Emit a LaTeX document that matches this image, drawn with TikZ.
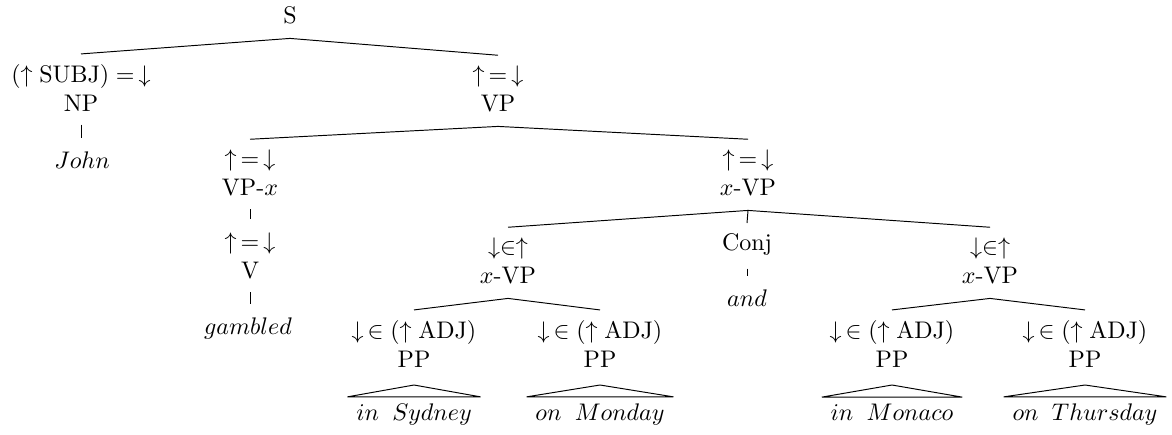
\documentclass[tikz,border=0pt]{standalone}
\usetikzlibrary{calc}
\newcommand{\lsp}{\mskip10mu}
\begin{document}
\begin{tikzpicture}[x=0.41667pt,y=-0.41667pt,
  tn/.style={inner sep=0pt, anchor=base},
  br/.style={line width=0.4pt},
  un/.style={line width=0.4pt}]
\useasboundingbox (0,0) rectangle (1172,434);
% nodes
\node[tn] (S) at (290,23) {S};
\node[tn] (NPa) at (81,82) {$(\uparrow\mathrm{SUBJ})=\,\downarrow$};
\node[tn] (NP) at (81,111) {NP};
\node[tn] (John) at (82,168) {$John$};
\node[tn] (VPa) at (498,82) {$\uparrow\,=\,\downarrow$};
\node[tn] (VP) at (498,111) {VP};
\node[tn] (VPxa) at (250,166) {$\uparrow\,=\,\downarrow$};
\node[tn] (VPx) at (250,195) {VP-$x$};
\node[tn] (Va) at (250,249) {$\uparrow\,=\,\downarrow$};
\node[tn] (V) at (250,278) {V};
\node[tn] (gam) at (248,334) {$gambled$};
\node[tn] (XVPa) at (748,166) {$\uparrow\,=\,\downarrow$};
\node[tn] (XVP) at (748,195) {$x$-VP};
\node[tn] (CAa) at (508,254) {$\downarrow\in\uparrow$};
\node[tn] (CA) at (508,283) {$x$-VP};
\node[tn] (Conj) at (747,250) {Conj};
\node[tn] (and) at (747,306) {$and$};
\node[tn] (CBa) at (990,254) {$\downarrow\in\uparrow$};
\node[tn] (CB) at (990,283) {$x$-VP};
% PPs
\node[tn] (P1a) at (414,338) {$\downarrow\,\in(\uparrow\mathrm{ADJ})$};
\node[tn] (P1) at (414,367) {PP};
\node[tn] (L1) at (414,420) {$in\lsp Sydney$};
\node[tn] (P2a) at (600,338) {$\downarrow\,\in(\uparrow\mathrm{ADJ})$};
\node[tn] (P2) at (600,367) {PP};
\node[tn] (L2) at (600,420) {$on\lsp Monday$};
\node[tn] (P3a) at (892,338) {$\downarrow\,\in(\uparrow\mathrm{ADJ})$};
\node[tn] (P3) at (892,367) {PP};
\node[tn] (L3) at (892,420) {$in\lsp Monaco$};
\node[tn] (P4a) at (1085,338) {$\downarrow\,\in(\uparrow\mathrm{ADJ})$};
\node[tn] (P4) at (1085,367) {PP};
\node[tn] (L4) at (1085,420) {$on\lsp Thursday$};
% branching edges
\foreach \p/\c in {S/NPa, S/VPa, VP/VPxa, VP/XVPa, XVP/CAa, XVP/Conj, XVP/CBa,
                   CA/P1a, CA/P2a, CB/P3a, CB/P4a}
  \draw[br] ([yshift=-6pt]\p.south) -- ([yshift=4pt]\c.north);
% unary edges (vertical ticks)
\foreach \p/\c in {NP/John, VPx/Va, V/gam, Conj/and}
  \draw[un] ($(\p.south)+(0,-5.5pt)$) -- ($(\p.south |- \c.north)+(0,5.5pt)$);
% triangles
\foreach \p/\l in {P1/L1, P2/L2, P3/L3, P4/L4}
  \draw[br] ([yshift=-7.3pt]\p.south) -- ([xshift=-3.5pt,yshift=2.5pt]\l.north west)
    -- ([xshift=3.5pt,yshift=2.5pt]\l.north east) -- cycle;
\end{tikzpicture}
\end{document}
